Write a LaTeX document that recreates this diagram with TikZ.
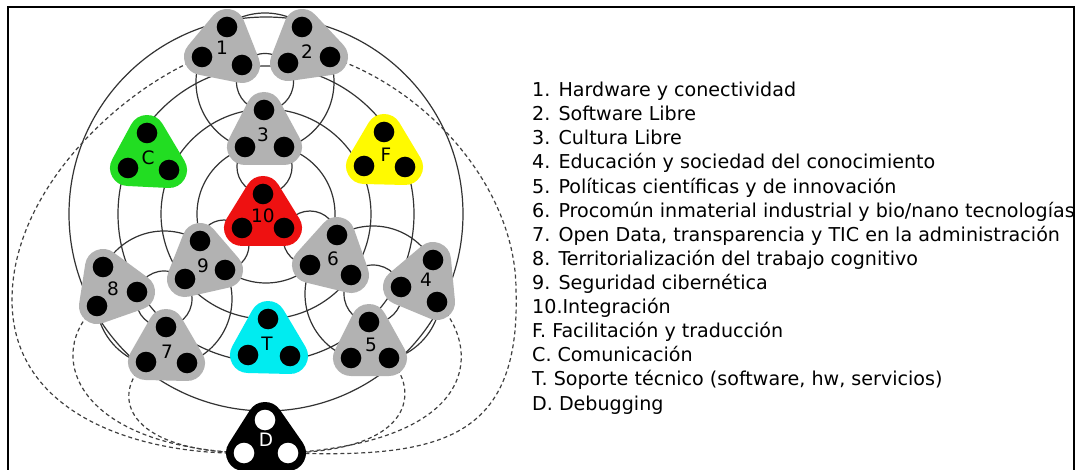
\documentclass[tikz,border=0pt]{standalone}
\usepackage{fontspec}
\setmainfont{DejaVu Sans}
\usetikzlibrary{positioning,calc}

\definecolor{blobgrey}{RGB}{178,178,178}
\definecolor{blobgreen}{RGB}{34,221,34}
\definecolor{blobyellow}{RGB}{255,250,0}
\definecolor{blobred}{RGB}{238,17,17}
\definecolor{blobcyan}{RGB}{0,236,240}

%% rounded three-dot blob: #1 name, #2 fill, #3 dots
\newcommand{\trinode}[3]{%
	\filldraw[#2,line width=36pt,line join=round] (#1a) -- (#1b) -- (#1c) -- cycle;
	\foreach \d in {a,b,c} \fill[#3] (#1\d) circle (10.3);
}

\begin{document}
\begin{tikzpicture}[x=1pt,y=-1pt,
	ring/.style={draw=black!80,line width=1.2pt},
	link/.style={draw=black!75,line width=1.2pt,dash pattern=on 4pt off 3pt},
	lbl/.style={inner sep=0pt,font=\fontsize{18.5}{18.5}\selectfont},
	item/.style={inner sep=0pt,anchor=base west,font=\fontsize{19.1}{22}\selectfont}]
	\useasboundingbox (0,0) rectangle (1076,470);
	\clip (0,0) rectangle (1076,470);
	\fill[white] (0,0) rectangle (1076,470);
	\draw[line width=2pt] (8,7) rectangle (1074,495);
	
	%% dots of every blob
	\coordinate (n1a) at (227,27);  \coordinate (n1b) at (202,57);  \coordinate (n1c) at (242,65);
	\coordinate (n2a) at (302,27);  \coordinate (n2b) at (330,57);  \coordinate (n2c) at (288,63);
	\coordinate (n3a) at (264,110); \coordinate (n3b) at (245,147); \coordinate (n3c) at (284,147);
	\coordinate (nCa) at (147,133); \coordinate (nCb) at (128,168); \coordinate (nCc) at (169,170);
	\coordinate (nFa) at (384,132); \coordinate (nFb) at (364,166); \coordinate (nFc) at (405,167);
	\coordinate (n10a) at (263,194); \coordinate (n10b) at (242,228); \coordinate (n10c) at (284,228);
	\coordinate (n9a) at (200,241); \coordinate (n9b) at (225,270); \coordinate (n9c) at (185,279);
	\coordinate (n6a) at (337,235); \coordinate (n6b) at (310,265); \coordinate (n6c) at (351,275);
	\coordinate (n8a) at (103,267); \coordinate (n8b) at (137,292); \coordinate (n8c) at (97,306);
	\coordinate (n4a) at (433,260); \coordinate (n4b) at (401,287); \coordinate (n4c) at (437,302);
	\coordinate (n7a) at (166,327); \coordinate (n7b) at (146,362); \coordinate (n7c) at (187,363);
	\coordinate (nTa) at (268,319); \coordinate (nTb) at (248,355); \coordinate (nTc) at (290,356);
	\coordinate (n5a) at (369,322); \coordinate (n5b) at (351,358); \coordinate (n5c) at (389,358);
	\coordinate (nDa) at (265,420); \coordinate (nDb) at (244,453); \coordinate (nDc) at (288,453);
	
	%% rings
	\coordinate (hub) at (266,214);
	\foreach \r in {69,105,148,197} \draw[ring] (hub) circle (\r);
	\coordinate (hubtop) at (265,82);
	\foreach \r in {28.5,69} \draw[ring] (hubtop) circle (\r);
	\coordinate (hubleft) at (164,299);
	\foreach \r in {28,68} \draw[ring] (hubleft) circle (\r);
	\coordinate (hubright) at (373,294);
	\foreach \r in {29,68} \draw[ring] (hubright) circle (\r);
	\draw[ring] (264.5,166.5) circle (27.6);
	\draw[ring] (224,245) circle (25);
	\draw[ring] (310,238) circle (27);
	
	%% debugging links
	\draw[link] (n1b) .. controls (120,90) and (12,190) .. (12,300) .. controls (12,420) and (150,455) .. (nDb);
	\draw[link] (n8c) .. controls (45,350) and (70,445) .. (nDb);
	\draw[link] (n7b) .. controls (110,395) and (125,450) .. (nDb);
	\draw[link] (n2b) .. controls (430,90) and (516,190) .. (516,290) .. controls (521,440) and (440,458) .. (nDc);
	\draw[link] (n4c) .. controls (480,345) and (485,440) .. (nDc);
	\draw[link] (n5c) .. controls (420,390) and (415,450) .. (nDc);
	
	%% blobs
	\foreach \n in {1,2,3,9,6,8,4,7,5} {\trinode{n\n}{blobgrey}{black}}
	\trinode{nC}{blobgreen}{black}
	\trinode{nF}{blobyellow}{black}
	\trinode{n10}{blobred}{black}
	\trinode{nT}{blobcyan}{black}
	\trinode{nD}{black}{white}
	
	\node[lbl] (n1) at (222,48) {1};
	\node[lbl] (n2) at (307,52) {2};
	\node[lbl] (n3) at (263,135) {3};
	\node[lbl] (nC) at (148,158) {C};
	\node[lbl] (nF) at (386,155) {F};
	\node[lbl] (n10) at (263,216) {10};
	\node[lbl] (n9) at (203,266) {9};
	\node[lbl] (n6) at (333,259) {6};
	\node[lbl] (n8) at (113,289) {8};
	\node[lbl] (n4) at (426,280) {4};
	\node[lbl] (n7) at (167,352) {7};
	\node[lbl] (nT) at (267,344) {T};
	\node[lbl] (n5) at (371,345) {5};
	\node[lbl,text=white] (nD) at (266,440) {D};
	
	%% legend
	\foreach \t [count=\i from 0] in {{1. Hardware y conectividad},{2. Software Libre},{3. Cultura Libre},
		{4. Educación y sociedad del conocimiento},{5. Políticas científicas y de innovación},
		{6. Procomún inmaterial industrial y bio/nano tecnologías},
		{7. Open Data, transparencia y TIC en la administración},
		{8. Territorialización del trabajo cognitivo},{9. Seguridad cibernética},{10.Integración},
		{F. Facilitación y traducción},{C. Comunicación},
		{T. Soporte técnico (software, hw, servicios)},{D. Debugging}}
	\node[item] (item\i) at (532,96.7+24.1*\i) {\t};
\end{tikzpicture}
\end{document}
